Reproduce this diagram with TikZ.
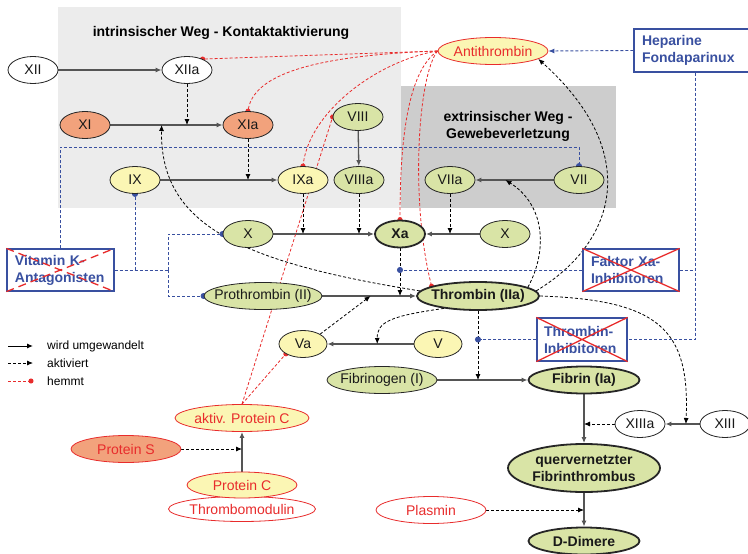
\documentclass[tikz,border=0pt]{standalone}
\usepackage{fontspec}
\setmainfont{Liberation Sans}
\usetikzlibrary{shapes.geometric}
\usetikzlibrary{arrows.meta}
\usetikzlibrary{calc}

\definecolor{salmon}{RGB}{242,162,124}
\definecolor{paleyellow}{RGB}{251,246,180}
\definecolor{palegreen}{RGB}{217,228,166}
\definecolor{hemmred}{RGB}{232,44,44}
\definecolor{drugblue}{RGB}{57,80,160}
\definecolor{intgray}{RGB}{236,236,236}
\definecolor{extgray}{RGB}{205,205,205}
\definecolor{convgray}{RGB}{85,85,85}

\pgfdeclarelayer{panels}
\pgfdeclarelayer{links}
\pgfsetlayers{panels,links,main}

\tikzset{
    ovalbase/.style={ellipse, draw=black!85, line width=0.8pt, inner sep=0pt,
        text=black!90, font=\fontsize{14}{17}\selectfont},
    factor/.style={ovalbase, minimum width=50pt, minimum height=27pt,
        execute at begin node={\hbox to 0pt\bgroup\hss},
        execute at end node={\hss\egroup}},
    white factor/.style={factor, fill=white},
    orange factor/.style={factor, fill=salmon},
    yellow factor/.style={factor, fill=paleyellow},
    green factor/.style={factor, fill=palegreen},
    main factor/.style={green factor, line width=1.8pt,
        font=\fontsize{14}{17}\selectfont\bfseries},
    inhibitor/.style={factor, draw=hemmred, text=hemmred},
    drug/.style={rectangle, draw=drugblue, line width=1.2pt, text=drugblue,
        inner sep=0pt, align=left, font=\fontsize{14}{17}\selectfont\bfseries},
    pathtitle/.style={align=center, font=\fontsize{14}{17}\selectfont\bfseries},
    legtext/.style={anchor=west, inner sep=0pt, font=\fontsize{12}{14}\selectfont},
    convert/.style={-{Latex[length=6pt,width=5pt]}, draw=convgray, line width=1.3pt},
    activate/.style={-{Latex[length=6pt,width=5pt]}, dash pattern=on 3pt off 2pt,
        line width=0.8pt},
    inhibit/.style={-{Circle[length=5pt]}, shorten >=-2.5pt, hemmred,
        dash pattern=on 3pt off 2pt, line width=0.8pt},
    blueline/.style={drugblue, dash pattern=on 3pt off 2pt, line width=0.9pt},
    bluedot/.style={blueline, -{Circle[length=6pt]}, shorten >=-3pt},
    crossout/.style={hemmred, line width=1.3pt},
}

\begin{document}
\begin{tikzpicture}[x=1pt, y=-1pt]
    \useasboundingbox (0,0) rectangle (748,554);
    \begin{pgfonlayer}{panels}
        \fill[intgray] (58,7) rectangle (401,208);
        \fill[extgray] (401,86) rectangle (616,208);
    \end{pgfonlayer}

    \node[pathtitle] (intrinsic) at (221,33) {intrinsischer Weg - Kontaktaktivierung};
    \node[pathtitle] (extrinsic) at (508,126) {extrinsischer Weg -\\Gewebeverletzung};

    \node[white factor] (XII) at (33,70) {XII};
    \node[white factor] (XIIa) at (187,70) {XIIa};
    \node[orange factor] (XI) at (85,125) {XI};
    \node[orange factor] (XIa) at (248,125) {XIa};
    \node[green factor] (VIII) at (358,117) {VIII};
    \node[yellow factor] (IX) at (135,180) {IX};
    \node[yellow factor] (IXa) at (303,180) {IXa};
    \node[green factor] (VIIIa) at (359,180) {VIIIa};
    \node[green factor] (VIIa) at (450,180) {VIIa};
    \node[green factor] (VII) at (579,180) {VII};
    \node[green factor] (X1) at (248,234) {X};
    \node[main factor] (Xa) at (400,234) {Xa};
    \node[green factor] (X2) at (505,234) {X};
    \node[green factor, minimum width=118pt] (II) at (263,296) {Prothrombin (II)};
    \node[main factor, minimum width=122pt, minimum height=28pt] (IIa) at (478,296) {Thrombin (IIa)};
    \node[yellow factor, minimum width=48pt] (Va) at (303,344) {Va};
    \node[yellow factor, minimum width=48pt] (V) at (438,344) {V};
    \node[green factor, minimum width=110pt] (I) at (382,380) {Fibrinogen (I)};
    \node[main factor, minimum width=111pt] (Ia) at (584,380) {Fibrin (Ia)};
    \node[white factor] (XIIIa) at (640,424) {XIIIa};
    \node[white factor] (XIII) at (725,424) {XIII};
    \node[ovalbase, fill=palegreen, line width=1.8pt, align=center, inner sep=1pt,
        minimum width=152pt, minimum height=48pt,
        font=\fontsize{14}{17}\selectfont\bfseries] (thrombus) at (584,468) {quervernetzter\\Fibrinthrombus};
    \node[main factor, minimum width=111pt] (dimer) at (584,541) {D-Dimere};

    \node[inhibitor, fill=paleyellow, minimum width=110pt] (AT) at (493,51) {Antithrombin};
    \node[inhibitor, fill=white, minimum width=110pt] (plasmin) at (431,510) {Plasmin};
    \node[inhibitor, fill=paleyellow, minimum width=134pt] (aPC) at (242,418) {aktiv. Protein C};
    \node[inhibitor, fill=salmon, minimum width=110pt] (PS) at (126,449) {Protein S};
    \node[inhibitor, fill=white, minimum width=147pt, minimum height=25pt] (TM) at (242,509) {Thrombomodulin};
    \node[inhibitor, fill=paleyellow, minimum width=110pt, minimum height=26pt] (PC) at (242,485) {Protein C};

    \node[drug, minimum width=122pt, minimum height=43pt, text width=106pt] (HEP) at (695,50.5) {Heparine\\Fondaparinux};
    \node[drug, minimum width=96pt, minimum height=42pt, text width=80pt] (FXI) at (631,270) {Faktor Xa-\\Inhibitoren};
    \node[drug, minimum width=90pt, minimum height=43pt, text width=76pt] (TIH) at (582,339.5) {Thrombin-\\Inhibitoren};
    \node[drug, minimum width=107pt, minimum height=42pt, text width=91pt] (VKA) at (60.5,270) {Vitamin K-\\Antagonisten};
    \draw[crossout] (FXI.north west) -- (FXI.south east) (FXI.south west) -- (FXI.north east);
    \draw[crossout] (TIH.north west) -- (TIH.south east) (TIH.south west) -- (TIH.north east);
    \draw[crossout, dash pattern=on 8pt off 5pt] (VKA.north west) -- (VKA.south east) (VKA.south west) -- (VKA.north east);

    \coordinate (vkrow) at (0,147);
    \coordinate (vkjoin) at (168,270);

    \begin{pgfonlayer}{links}
        \draw[convert] (XII) -- (XIIa);
        \draw[convert] (XI) -- (XIa);
        \draw[convert] (IX) -- (IXa);
        \draw[convert] (VIII) -- (VIIIa);
        \draw[convert] (VII) -- (VIIa);
        \draw[convert] (X1) -- (Xa);
        \draw[convert] (X2) -- (Xa);
        \draw[convert] (II) -- (IIa);
        \draw[convert] (V) -- (Va);
        \draw[convert] (I) -- (Ia);
        \draw[convert] (Ia) -- (thrombus);
        \draw[convert] (XIII) -- (XIIIa);
        \draw[convert] (thrombus) -- (dimer);
        \draw[convert] (PC) -- (aPC);

        \draw[activate] (XIIa) -- (XIIa |- XI);
        \draw[activate] (XIa) -- (XIa |- IX);
        \draw[activate] (IXa) -- (IXa |- X1);
        \draw[activate] (VIIIa) -- (VIIIa |- X1);
        \draw[activate] (VIIa) -- (VIIa |- X2);
        \draw[activate] (Xa) -- (Xa |- IIa);
        \draw[activate] (IIa) -- (IIa |- Ia);
        \draw[activate] (XIIIa) -- (Ia |- XIIIa);
        \draw[activate] (plasmin) -- (dimer |- plasmin);
        \draw[activate] (PS) -- (PC |- PS);
        \draw[activate] (Va.30) -- ($(II)!0.5!(IIa)$);
        \draw[activate] (IIa.200) .. controls (390,316) and (377,322) .. ($(Va)!0.55!(V)$);
        \draw[activate] (IIa.175) .. controls (240,262) and (160,225) .. ($(XI)!0.47!(XIa)$);
        \draw[activate] (IIa.10) .. controls (548,250) and (545,205) .. ($(VIIa)!0.43!(VII)$);
        \draw[activate] (IIa.5) .. controls (620,240) and (640,150) .. (AT.-10);
        \draw[activate] (IIa.east) .. controls (660,300) and (690,330) .. ($(XIIIa)!0.54!(XIII)$);

        \draw[inhibit] (AT.west) -- (XIIa.35);
        \draw[inhibit] (AT.west) .. controls (330,55) and (255,70) .. (XIa.north);
        \draw[inhibit] (AT.west) .. controls (380,60) and (310,110) .. (IXa.north);
        \draw[inhibit] (AT.west) .. controls (410,70) and (400,130) .. (Xa.north);
        \draw[inhibit] (AT.west) .. controls (418,75) and (410,200) .. (IIa.168);
        \draw[inhibit] (aPC.north) -- (Va.210);
        \draw[inhibit] (aPC.north) -- (VIII.west);

        \draw[bluedot] (VKA.north) |- (VII |- vkrow) -- (VII.north);
        \draw[blueline] (VKA.east) -- (vkjoin);
        \draw[bluedot] (IX |- VKA.east) -- (IX.south);
        \draw[bluedot] (vkjoin) |- (X1.west);
        \draw[bluedot] (vkjoin) |- (II.west);
        \draw[blueline, -{Latex[length=6pt,width=5pt]}] (HEP.west) -- (AT.east);
        \draw[blueline] (HEP.south) |- (TIH.east);
        \draw[blueline] (FXI.east) -- (HEP.south |- FXI.east);
        \draw[bluedot] (FXI.west) -- (Xa |- FXI.west);
        \draw[bluedot] (TIH.west) -- (IIa |- TIH.west);
    \end{pgfonlayer}

    \coordinate (leg1) at (8,346);
    \coordinate (leg1e) at (33,346);
    \coordinate (leg2) at (8,363);
    \coordinate (leg2e) at (33,363);
    \coordinate (leg3) at (8,381);
    \coordinate (leg3e) at (31,381);
    \draw[convert, draw=black, line width=1pt] (leg1) -- (leg1e);
    \draw[activate] (leg2) -- (leg2e);
    \draw[inhibit] (leg3) -- (leg3e);
    \node[legtext] (legconv) at (47,346) {wird umgewandelt};
    \node[legtext] (legact) at (47,363) {aktiviert};
    \node[legtext] (leginh) at (47,381) {hemmt};
\end{tikzpicture}
\end{document}
